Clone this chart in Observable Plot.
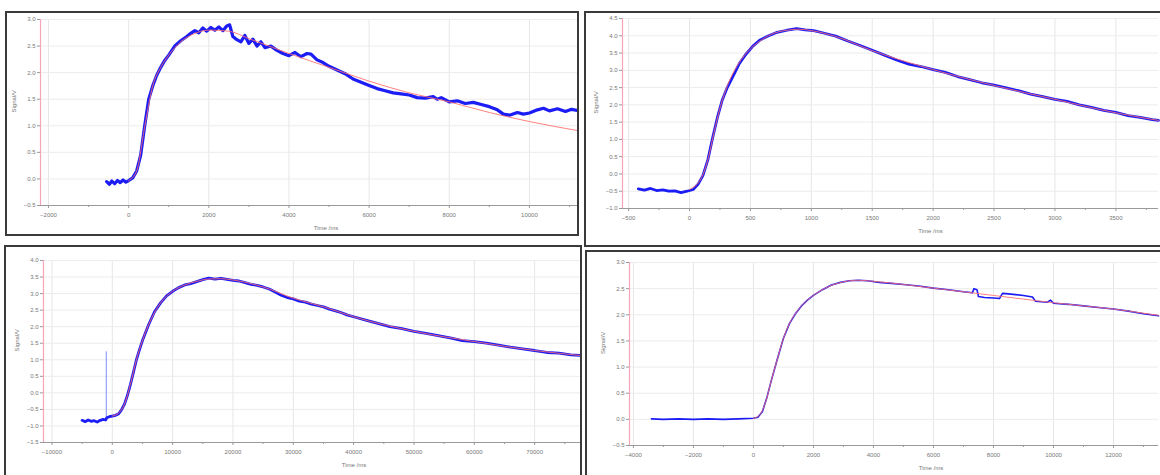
<!DOCTYPE html>
<html><head><meta charset="utf-8">
<script src="https://cdn.jsdelivr.net/npm/d3@7"></script>
<script src="https://cdn.jsdelivr.net/npm/@observablehq/plot@0.6"></script>
<style>
body{margin:0;background:#fff;width:1160px;height:475px;overflow:hidden;position:relative;font-family:"Liberation Sans",Arial,sans-serif}
.box{position:absolute;border:2px solid #3a3a3a;box-sizing:border-box;background:#fff;overflow:hidden}
.box svg{position:absolute;left:0;top:0}
</style></head><body>
<script>
// ---------- Panel 1 (top-left) ----------
const p1Time = [-550,-480,-420,-350,-280,-210,-140,-70,0,100,200,300,400,500,600,700,800,900,1000,1150,1300,1450,1550,1650,1750,1850,1950,2050,2150,2250,2350,2450,2520,2600,2700,2800,2900,3000,3100,3200,3300,3400,3550,3700,3850,4000,4150,4300,4450,4550,4700,4850,5000,5200,5400,5600,5800,6000,6200,6400,6600,6800,7000,7200,7400,7600,7700,7800,8000,8200,8400,8600,8800,9000,9200,9350,9500,9700,9850,10000,10200,10350,10500,10700,10900,11050,11200];
const p1Signal = [-0.05,-0.1,-0.04,-0.09,-0.03,-0.07,-0.02,-0.06,-0.03,0.02,0.15,0.45,1.0,1.5,1.75,1.95,2.1,2.23,2.33,2.5,2.6,2.68,2.74,2.79,2.75,2.84,2.78,2.85,2.8,2.86,2.79,2.88,2.9,2.68,2.62,2.58,2.7,2.55,2.63,2.5,2.58,2.47,2.5,2.42,2.36,2.32,2.38,2.3,2.36,2.35,2.24,2.19,2.12,2.05,1.98,1.88,1.82,1.76,1.7,1.66,1.62,1.6,1.58,1.53,1.52,1.55,1.5,1.53,1.45,1.47,1.42,1.44,1.4,1.36,1.3,1.22,1.2,1.25,1.22,1.24,1.3,1.33,1.28,1.32,1.27,1.31,1.29];
const p1FitTime = [0,200,400,600,800,1000,1300,1600,2000,2500,3000,3500,4000,5000,6000,7000,8000,9000,10000,11200];
const p1FitSignal = [-0.03,0.15,0.98,1.75,2.1,2.33,2.58,2.72,2.8,2.78,2.64,2.5,2.36,2.1,1.84,1.62,1.45,1.25,1.08,0.91];
const p1XTicks = [-2000,0,2000,4000,6000,8000,10000];
const p1XMinor = [-1000,1000,3000,5000,7000,9000,11000];
const p1YTicks = [-0.5,0.0,0.5,1.0,1.5,2.0,2.5,3.0];

// ---------- Panel 2 (top-right) ----------
const p2Time = [-420,-370,-320,-270,-220,-170,-120,-70,-20,30,70,110,150,190,230,270,310,360,410,460,520,580,650,720,800,880,950,1020,1100,1200,1300,1400,1500,1600,1700,1800,1900,2000,2100,2200,2300,2400,2500,2600,2700,2800,2900,3000,3100,3200,3300,3400,3500,3600,3700,3800,3850];
const p2Signal = [-0.43,-0.47,-0.42,-0.48,-0.46,-0.5,-0.49,-0.54,-0.5,-0.45,-0.3,-0.05,0.4,1.05,1.65,2.15,2.5,2.85,3.2,3.45,3.7,3.88,4.0,4.1,4.16,4.21,4.17,4.15,4.08,3.99,3.85,3.72,3.58,3.44,3.3,3.18,3.11,3.02,2.94,2.82,2.73,2.64,2.57,2.49,2.41,2.31,2.24,2.16,2.1,2.0,1.93,1.84,1.78,1.69,1.64,1.57,1.55];
const p2FitTime = [0,100,150,200,250,300,400,500,600,700,800,900,1000,1200,1500,2000,2500,3000,3500,3850];
const p2FitSignal = [-0.45,-0.1,0.4,1.18,1.9,2.45,3.18,3.62,3.9,4.08,4.16,4.19,4.15,3.98,3.57,3.02,2.56,2.16,1.77,1.55];
const p2XTicks = [-500,0,500,1000,1500,2000,2500,3000,3500];
const p2XMinor = [-250,250,750,1250,1750,2250,2750,3250,3750];
const p2YTicks = [-1.0,-0.5,0.0,0.5,1.0,1.5,2.0,2.5,3.0,3.5,4.0,4.5];

// ---------- Panel 3 (bottom-left) ----------
const p3Time = [-5000,-4500,-4000,-3500,-3000,-2500,-2000,-1500,-1100,-900,-500,0,500,1000,1500,2000,2500,3000,3500,4000,4500,5000,6000,7000,8000,9000,10000,11000,12000,13000,14000,15000,16000,17000,18000,19000,20000,21000,22000,23000,24000,25000,26000,27000,28000,29000,30000,31000,32000,33000,34000,35000,36000,37000,38000,39000,40000,42000,44000,46000,48000,50000,52000,54000,56000,58000,60000,62000,64000,66000,68000,70000,72000,74000,76000,77500];
const p3Signal = [-0.83,-0.87,-0.82,-0.86,-0.84,-0.88,-0.83,-0.8,-0.82,-0.75,-0.72,-0.7,-0.68,-0.64,-0.52,-0.35,-0.08,0.25,0.62,1.0,1.3,1.58,2.05,2.45,2.72,2.93,3.07,3.18,3.26,3.3,3.36,3.42,3.47,3.44,3.46,3.43,3.4,3.38,3.33,3.28,3.25,3.2,3.14,3.05,2.95,2.88,2.84,2.77,2.74,2.68,2.64,2.6,2.53,2.48,2.42,2.35,2.3,2.2,2.1,2.0,1.94,1.86,1.8,1.73,1.66,1.58,1.55,1.5,1.44,1.38,1.33,1.28,1.22,1.2,1.15,1.13];
const p3SpikeTime = [-1000];
const p3SpikeLow = [-0.8];
const p3SpikeHigh = [1.24];
const p3FitTime = [0,1000,2000,3000,4000,5000,6000,8000,10000,12000,14000,16000,18000,20000,25000,30000,35000,40000,50000,60000,70000,77500];
const p3FitSignal = [-0.7,-0.62,-0.35,0.25,1.0,1.58,2.05,2.72,3.07,3.26,3.37,3.44,3.45,3.41,3.2,2.86,2.6,2.3,1.86,1.55,1.28,1.13];
const p3XTicks = [-10000,0,10000,20000,30000,40000,50000,60000,70000];
const p3XMinor = [-5000,5000,15000,25000,35000,45000,55000,65000,75000];
const p3YTicks = [-1.5,-1.0,-0.5,0.0,0.5,1.0,1.5,2.0,2.5,3.0,3.5,4.0];

// ---------- Panel 4 (bottom-right) ----------
const p4Time = [-3400,-3000,-2500,-2000,-1500,-1000,-500,0,150,300,450,600,800,1000,1200,1400,1600,1800,2000,2300,2600,2900,3200,3500,3800,4200,4600,5000,5500,6000,6500,7000,7300,7350,7450,7500,7700,8000,8200,8300,8500,9000,9300,9400,9600,9800,9900,10000,10500,11000,11500,12000,12500,13000,13500];
const p4Signal = [0.01,0.0,0.01,0.0,0.01,0.0,0.01,0.02,0.04,0.15,0.42,0.75,1.16,1.55,1.83,2.02,2.17,2.28,2.37,2.48,2.57,2.62,2.65,2.66,2.65,2.62,2.6,2.58,2.55,2.51,2.48,2.44,2.42,2.5,2.48,2.35,2.33,2.32,2.31,2.41,2.4,2.37,2.34,2.26,2.25,2.24,2.28,2.22,2.2,2.17,2.14,2.11,2.07,2.02,1.98];
const p4FitTime = [0,200,400,600,800,1000,1200,1400,1600,1800,2000,2500,3000,3500,4000,5000,6000,7000,8000,9000,10000,11000,12000,13000,13500];
const p4FitSignal = [0.02,0.08,0.32,0.75,1.16,1.55,1.83,2.02,2.17,2.28,2.37,2.54,2.63,2.66,2.64,2.58,2.51,2.44,2.37,2.3,2.23,2.17,2.11,2.03,1.99];
const p4XTicks = [-4000,-2000,0,2000,4000,6000,8000,10000,12000];
const p4XMinor = [-3000,-1000,1000,3000,5000,7000,9000,11000,13000];
const p4YTicks = [-0.5,0.0,0.5,1.0,1.5,2.0,2.5,3.0];

const xLabel = "Time /ms";
const yLabel = "Signal/V";

const zip = (a, b) => a.map((t, i) => ({t, v: b[i]}));

const panels = [
  {box:{left:5,top:11,width:574,height:225}, area:{x0:40,x1:577,y0:19,y1:205},
   xDomain:[-2200,11200], yDomain:[-0.5,3.0], xTicks:p1XTicks, xMinor:p1XMinor, yTicks:p1YTicks,
   data:zip(p1Time,p1Signal), fit:zip(p1FitTime,p1FitSignal), sw:3.2, xLabelDx:17},
  {box:{left:584,top:11,width:580,height:236}, area:{x0:622,x1:1158,y0:18,y1:208},
   xDomain:[-550,3850], yDomain:[-1.0,4.5], xTicks:p2XTicks, xMinor:p2XMinor, yTicks:p2YTicks,
   data:zip(p2Time,p2Signal), fit:zip(p2FitTime,p2FitSignal), sw:2.8, xLabelDx:40},
  {box:{left:4,top:245,width:578,height:235}, area:{x0:43,x1:580,y0:260,y1:442},
   xDomain:[-11400,77600], yDomain:[-1.5,4.0], xTicks:p3XTicks, xMinor:p3XMinor, yTicks:p3YTicks,
   data:zip(p3Time,p3Signal), fit:zip(p3FitTime,p3FitSignal), sw:2.8, xLabelDx:42,
   spike:p3SpikeTime.map((t,i)=>({t, lo:p3SpikeLow[i], hi:p3SpikeHigh[i]}))},
  {box:{left:585,top:250,width:580,height:230}, area:{x0:629,x1:1158,y0:262,y1:445},
   xDomain:[-4130,13500], yDomain:[-0.5,3.0], xTicks:p4XTicks, xMinor:p4XMinor, yTicks:p4YTicks,
   data:zip(p4Time,p4Signal), fit:zip(p4FitTime,p4FitSignal), sw:1.6, xLabelDx:37}
];

const fxFmt = d3.format("d");
const fyFmt = d3.format(".1f");

for (const p of panels) {
  const div = document.createElement("div");
  div.className = "box";
  Object.assign(div.style, {left:p.box.left+"px", top:p.box.top+"px", width:p.box.width+"px", height:p.box.height+"px"});
  document.body.appendChild(div);
  const ox = p.box.left + 2, oy = p.box.top + 2;
  const W = p.box.width - 4, H = p.box.height - 4;
  const marks = [
    Plot.ruleX(p.xTicks, {stroke:"#e6e6e6", strokeWidth:1}),
    Plot.ruleY(p.yTicks, {stroke:"#ececec", strokeWidth:1}),
    Plot.ruleY([p.yDomain[0]], {stroke:"#9a9a9a", strokeWidth:1}),
    Plot.ruleX([p.xDomain[0]], {stroke:"#f4a6b8", strokeWidth:1.2}),
    Plot.axisX({ticks:p.xMinor, tickSize:2, tickFormat:() => "", stroke:"#999", label:null}),
    Plot.axisX({ticks:p.xTicks, tickSize:3, tickPadding:4, tickFormat:fxFmt, fontSize:6, fill:"#777", stroke:"#999", label:null}),
    Plot.axisY({ticks:p.yTicks, tickSize:3, tickPadding:2, tickFormat:fyFmt, fontSize:6, fill:"#777", stroke:"#999", label:null}),
    Plot.text([yLabel], {frameAnchor:"left", rotate:-90, dx:-26, fontSize:6, fill:"#777"}),
    Plot.text([xLabel], {frameAnchor:"bottom", dy:24, dx:p.xLabelDx, fontSize:6, fill:"#777"}),
  ];
  if (p.spike) marks.push(Plot.ruleX(p.spike, {x:"t", y1:"lo", y2:"hi", stroke:"#7a8cff", strokeWidth:1}));
  marks.push(Plot.line(p.data, {x:"t", y:"v", stroke:"#1c1cf5", strokeWidth:p.sw, strokeLinejoin:"round"}));
  marks.push(Plot.line(p.fit, {x:"t", y:"v", stroke:"#ff6b6b", strokeWidth:1, curve:"monotone-x", strokeOpacity:0.85}));
  const svg = Plot.plot({
    width:W, height:H,
    marginLeft:p.area.x0-ox, marginRight:ox+W-p.area.x1,
    marginTop:p.area.y0-oy, marginBottom:oy+H-p.area.y1,
    style:{background:"transparent", fontFamily:"Liberation Sans, Arial, sans-serif"},
    x:{domain:p.xDomain, label:null}, y:{domain:p.yDomain, label:null},
    marks
  });
  div.appendChild(svg);
}
</script>
</body></html>
